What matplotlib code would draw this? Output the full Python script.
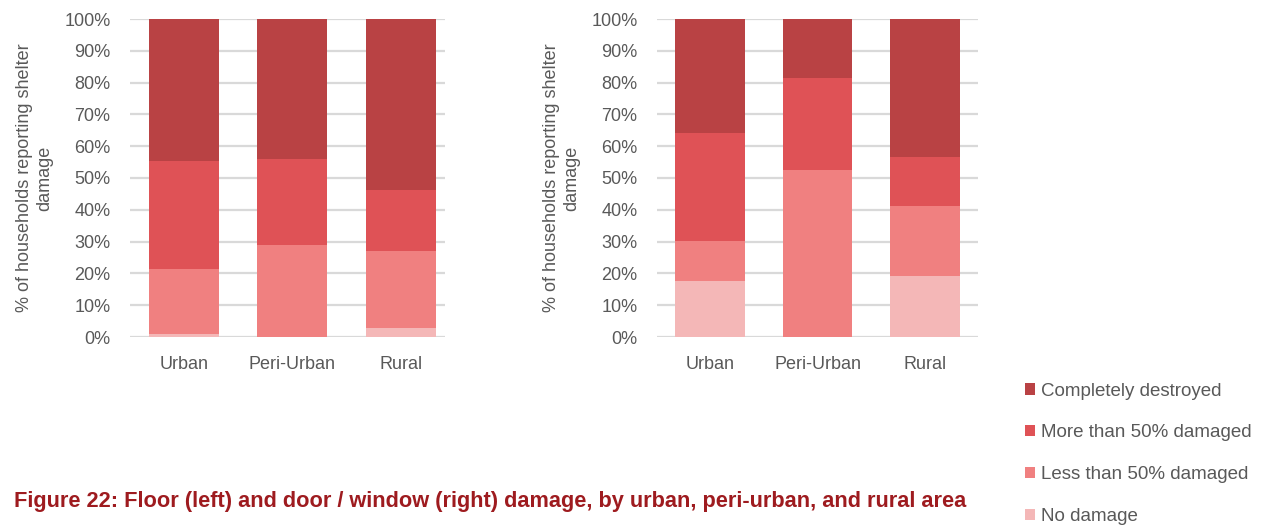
import matplotlib
matplotlib.use("Agg")
import matplotlib.pyplot as plt
from matplotlib.patches import Patch
import numpy as np

categories = ["Urban", "Peri-Urban", "Rural"]
series_names = ["No damage", "Less than 50% damaged", "More than 50% damaged", "Completely destroyed"]

# Floor damage (left)
floor_no = [0.8, 0.0, 2.7]
floor_less = [20.7, 28.9, 24.3]
floor_more = [34.0, 27.0, 19.1]
floor_complete = [44.5, 44.1, 53.9]

# Door / window damage (right)
door_no = [17.5, 0.0, 19.1]
door_less = [12.7, 52.6, 22.2]
door_more = [34.1, 28.7, 15.3]
door_complete = [35.7, 18.7, 43.4]

yticks = [0, 10, 20, 30, 40, 50, 60, 70, 80, 90, 100]
ytick_labels = [f"{v}%" for v in yticks]
ylabel = "% of households reporting shelter\ndamage"
caption = "Figure 22: Floor (left) and door / window (right) damage, by urban, peri-urban, and rural area"

colors = ["#F4B7B7", "#F08080", "#DF5256", "#B94244"]
text_color = "#595959"
grid_color = "#D9D9D9"

plt.rcParams['font.family'] = ['Liberation Sans Narrow', 'Liberation Sans', 'DejaVu Sans']

fig = plt.figure(figsize=(12.62, 5.27), dpi=100)

def draw(ax, series, xlim):
    x = np.arange(len(categories))
    bottom = np.zeros(len(categories))
    for vals, c in zip(series, colors):
        ax.bar(x, vals, bottom=bottom, width=0.645, color=c, edgecolor='none', zorder=3)
        bottom += np.array(vals)
    ax.set_ylim(0, 100)
    ax.set_xlim(*xlim)
    ax.set_yticks(yticks)
    ax.set_yticklabels(ytick_labels, fontsize=13, color=text_color)
    ax.set_xticks(x)
    ax.set_xticklabels(categories, fontsize=13, color=text_color)
    ax.tick_params(axis='both', length=0)
    ax.tick_params(axis='x', pad=14)
    ax.tick_params(axis='y', pad=14)
    for s in ax.spines.values():
        s.set_visible(False)
    ax.yaxis.grid(True, color=grid_color, linewidth=1.6, zorder=0)
    ax.set_axisbelow(True)
    ax.set_ylabel(ylabel, fontsize=13, color=text_color, linespacing=1.25, labelpad=8)

ax1 = fig.add_axes([130/1262, 1-337/527, 315/1262, 318/527])
draw(ax1, [floor_no, floor_less, floor_more, floor_complete], (-0.5, 2.41))
ax2 = fig.add_axes([657/1262, 1-337/527, 321/1262, 318/527])
draw(ax2, [door_no, door_less, door_more, door_complete], (-0.49, 2.49))

handles = [Patch(facecolor=c, edgecolor='none') for c in colors[::-1]]
fig.legend(handles, series_names[::-1], loc='upper left', bbox_to_anchor=(1017/1262, 1-375/527),
           frameon=False, fontsize=13.5, labelcolor=text_color, handlelength=0.55, handleheight=0.55,
           handletextpad=0.35, labelspacing=1.33, borderaxespad=0)

fig.text(14/1262, 1-501/527, caption, fontsize=15.7, fontweight='bold', color="#9E1B1F",
         ha='left', va='center')

fig.savefig("out.png", dpi=100)
